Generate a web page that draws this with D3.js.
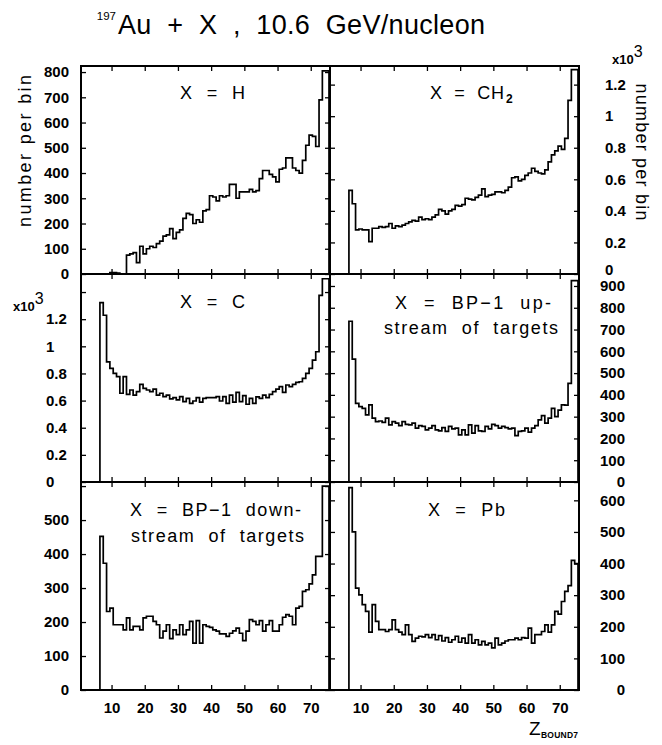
<!DOCTYPE html>
<html>
<head>
<meta charset="utf-8">
<script src="https://cdn.jsdelivr.net/npm/d3@7"></script>
<style>
body { margin: 0; background: #fff; }
svg { display: block; }
text { font-family: "Liberation Sans", Arial, sans-serif; fill: #000; white-space: pre; }
</style>
</head>
<body>
<svg id="chart" width="662" height="745"></svg>
<script>
// Z_BOUND7 bins 1..75 (unit width)
const zBins = [1,2,3,4,5,6,7,8,9,10,11,12,13,14,15,16,17,18,19,20,21,22,23,24,25,26,27,28,29,30,
    31,32,33,34,35,36,37,38,39,40,41,42,43,44,45,46,47,48,49,50,51,52,53,54,55,56,57,58,59,60,
    61,62,63,64,65,66,67,68,69,70,71,72,73,74,75];

const countsH = [0,0,0,0,0,0,0,0,0,6, 6,4,0,0,75,80,85,45,110,80,
    100,110,105,120,130,150,155,180,140,165, 175,220,240,235,200,215,205,250,255,310,
    305,290,310,305,310,355,355,300,325,325, 325,335,325,330,378,410,410,395,385,365,
    415,420,460,460,420,410,400,450,510,550, 545,505,690,805,805];

const countsCH2 = [0,0,0,0,0,0,530,445,280,285, 280,280,205,290,290,300,295,300,320,290,
    305,300,310,320,330,340,335,360,345,350, 345,360,375,410,400,380,400,410,435,430,
    440,480,475,470,485,500,540,490,500,505, 520,520,515,530,550,610,615,590,600,625,
    640,670,650,640,635,660,710,755,780,810, 790,860,1100,1295,1295];

const countsC = [0,0,0,0,0,0,1322,1229,886,837, 800,776,654,776,646,678,641,666,720,690,
    678,666,685,641,654,629,641,612,622,605, 629,592,617,580,597,622,588,617,622,622,
    622,629,597,629,580,641,588,661,592,636, 573,617,580,627,617,641,622,646,666,685,
    703,661,715,703,720,734,739,764,800,837, 898,960,1376,1498,1498];

const countsBPup = [0,0,0,0,0,0,738,564,361,346, 338,308,354,293,277,280,274,293,262,277,
    270,259,277,265,262,270,247,259,255,239, 247,259,239,235,250,232,255,244,247,216,
    239,216,262,224,259,235,232,255,244,265, 259,247,255,250,244,247,213,232,235,247,
    229,247,259,285,305,270,293,338,300,330, 354,353,453,925,925];

const countsBPdown = [0,0,0,0,0,0,452,373,231,241, 192,192,192,177,212,177,187,187,177,212,
    217,217,202,192,153,173,192,151,177,163, 192,163,177,202,138,204,138,192,187,184,
    177,173,165,165,158,167,174,182,167,145, 173,207,202,192,204,173,192,204,173,173,
    192,214,222,217,192,241,246,290,295,312, 339,393,393,600,600];

const countsPb = [0,0,0,0,0,0,640,500,322,301, 270,249,183,270,217,191,191,185,191,222,
    191,183,175,206,175,154,164,170,168,175, 166,175,159,172,155,166,151,159,170,151,
    164,148,175,148,159,143,154,143,148,133, 164,143,148,155,159,159,164,159,166,164,
    196,148,175,175,185,206,183,206,249,240, 280,312,330,410,400];

const xTicks = [10,20,30,40,50,60,70];
const yTicksH = [0,100,200,300,400,500,600,700,800];
const yTicksCH2 = [0,200,400,600,800,1000,1200];
const yTicksC = [0,200,400,600,800,1000,1200,1400];
const yTicksBPup = [0,100,200,300,400,500,600,700,800,900];
const yTicksBPdown = [0,100,200,300,400,500,600];
const yTicksPb = [0,100,200,300,400,500,600];

const colX = [81, 330], frameW = 249;
const rowY = [66, 274, 482], frameH = 208;
const xDomain = [0.8, 75.8];

const panels = [
    {name: "H", counts: countsH, ticks: yTicksH, ymax: 824, col: 0, row: 0, scaled: false, hide: []},
    {name: "CH2", counts: countsCH2, ticks: yTicksCH2, ymax: 1318, col: 1, row: 0, scaled: true, hide: []},
    {name: "C", counts: countsC, ticks: yTicksC, ymax: 1533, col: 0, row: 1, scaled: true, hide: [1400]},
    {name: "BPup", counts: countsBPup, ticks: yTicksBPup, ymax: 955, col: 1, row: 1, scaled: false, hide: []},
    {name: "BPdown", counts: countsBPdown, ticks: yTicksBPdown, ymax: 612, col: 0, row: 2, scaled: false, hide: [600]},
    {name: "Pb", counts: countsPb, ticks: yTicksPb, ymax: 658, col: 1, row: 2, scaled: false, hide: []},
];

const svg = d3.select("#chart");
svg.append("rect").attr("width", 662).attr("height", 745).attr("fill", "#fff");

const fmt = (p, v) => {
    if (p.hide.includes(v)) return "";
    return p.scaled ? String(+(v / 1000).toFixed(1)) : String(v);
};

panels.forEach((p, i) => {
    const x0 = colX[p.col], y0 = rowY[p.row];
    const x = d3.scaleLinear().domain(xDomain).range([x0, x0 + frameW]);
    const y = d3.scaleLinear().domain([0, p.ymax]).range([y0 + frameH, y0]);
    const g = svg.append("g");

    g.append("clipPath").attr("id", `clip${i}`)
        .append("rect").attr("x", x0).attr("y", y0 - 2).attr("width", frameW).attr("height", frameH + 2);

    // histogram outline
    const pts = [[zBins[0] - 0.5, 0]];
    zBins.forEach((z, k) => { pts.push([z - 0.5, p.counts[k]], [z + 0.5, p.counts[k]]); });
    pts.push([zBins[zBins.length - 1] + 0.5, 0]);
    g.append("path")
        .attr("clip-path", `url(#clip${i})`)
        .attr("d", d3.line().x(d => x(d[0])).y(d => y(d[1]))(pts))
        .attr("fill", "none").attr("stroke", "#000").attr("stroke-width", 1.7)
        .attr("stroke-linejoin", "miter");

    // inward ticks on all four sides
    const tickStyle = s => {
        s.select(".domain").remove();
        s.selectAll(".tick line").attr("stroke", "#000").attr("stroke-width", 1.3);
        s.selectAll("text").style("font-size", "15px").style("font-weight", "bold").attr("fill", "#000");
    };
    const left = g.append("g").attr("transform", `translate(${x0},0)`)
        .call(d3.axisLeft(y).tickValues(p.ticks).tickSizeInner(-5).tickSizeOuter(0).tickPadding(12)
            .tickFormat(v => p.col === 0 ? fmt(p, v) : ""))
        .call(tickStyle);
    const right = g.append("g").attr("transform", `translate(${x0 + frameW},0)`)
        .call(d3.axisRight(y).tickValues(p.ticks).tickSizeInner(-5).tickSizeOuter(0).tickPadding(26)
            .tickFormat(v => p.col === 1 ? fmt(p, v) : ""))
        .call(tickStyle);
    g.append("g").attr("transform", `translate(0,${y0})`)
        .call(d3.axisTop(x).tickValues(xTicks).tickSizeInner(-5).tickSizeOuter(0).tickFormat(""))
        .call(tickStyle);
    g.append("g").attr("transform", `translate(0,${y0 + frameH})`)
        .call(d3.axisBottom(x).tickValues(xTicks).tickSizeInner(-5).tickSizeOuter(0).tickPadding(12)
            .tickFormat(v => p.row === 2 ? v : ""))
        .call(tickStyle);

    // label alignment: decimals start-aligned, integers end-aligned
    if (p.col === 0 && p.scaled) {
        left.selectAll("text").attr("text-anchor", "start").attr("x", 46 - x0);
    }
    if (p.col === 1 && !p.scaled) {
        right.selectAll("text").attr("text-anchor", "end").attr("x", 625 - (x0 + frameW));
    }
    if (p.col === 1 && p.scaled) {
        right.selectAll("text").filter(v => v === 0).attr("dy", "0.05em");
    }

    // frame
    g.append("rect").attr("x", x0).attr("y", y0).attr("width", frameW).attr("height", frameH)
        .attr("fill", "none").attr("stroke", "#000").attr("stroke-width", 2);
});

// title
svg.append("text").attr("x", 116).attr("y", 20).attr("text-anchor", "end").style("font-size", "11.5px").text("197");
svg.append("text").attr("x", 118).attr("y", 34).style("font-size", "27px")
    .attr("textLength", 367).attr("lengthAdjust", "spacing")
    .text("Au  +  X  ,  10.6  GeV/nucleon");

// x10^3 multipliers
const mult = (xp, yp) => {
    const t = svg.append("text").attr("x", xp).attr("y", yp).style("font-size", "13px").style("font-weight", "bold");
    t.append("tspan").text("x10");
    t.append("tspan").attr("dy", -7).style("font-size", "16px").style("font-weight", "normal").text("3");
};
mult(612, 64);
mult(13, 311);

// panel labels
const label = (txt, xp, yp, len) => svg.append("text").attr("x", xp).attr("y", yp)
    .style("font-size", "18px").attr("textLength", len).attr("lengthAdjust", "spacing").text(txt);
label("X  =  H", 180, 99, 65);
label("X  =  CH", 430, 99, 74);
svg.append("text").attr("x", 506).attr("y", 103).style("font-size", "12px").style("font-weight", "bold").text("2");
label("X  =  C", 180, 308, 65);
label("X  =  BP\u22121  up-", 395, 309, 156);
label("stream  of  targets", 384, 334, 174);
label("X  =  BP\u22121  down-", 130, 516, 171);
label("stream  of  targets", 131, 542, 173);
label("X  =  Pb", 428, 516, 77);

// y axis titles
svg.append("text").attr("transform", "translate(31,151) rotate(-90)").attr("text-anchor", "middle")
    .style("font-size", "18px").attr("textLength", 152).attr("lengthAdjust", "spacing").text("number per bin");
svg.append("text").attr("transform", "translate(636,152) rotate(90)").attr("text-anchor", "middle")
    .style("font-size", "18px").attr("textLength", 137).attr("lengthAdjust", "spacing").text("number per bin");

// x axis title
svg.append("text").attr("x", 529).attr("y", 735).style("font-size", "19px").text("Z");
svg.append("text").attr("x", 541).attr("y", 738).style("font-size", "8.5px").style("font-weight", "bold")
    .attr("textLength", 37).attr("lengthAdjust", "spacing").text("BOUND7");
</script>
</body>
</html>
